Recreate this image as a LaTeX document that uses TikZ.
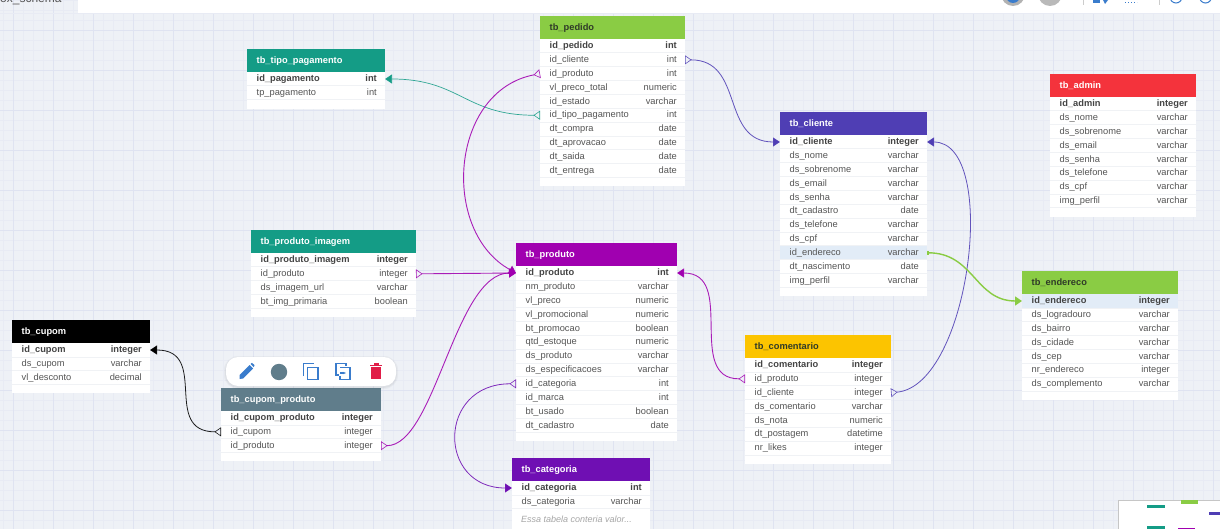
\documentclass[tikz,border=0pt]{standalone}
\usepackage{fontspec}
\setmainfont{Liberation Sans}
\usetikzlibrary{arrows.meta,calc}
\definecolor{bgc}{HTML}{EEF1F6}
\definecolor{gridmin}{HTML}{E8EBF4}
\definecolor{gridmaj}{HTML}{DFE3F1}
\definecolor{rowline}{HTML}{F0F2F5}
\definecolor{hlc}{HTML}{E2ECF7}
\definecolor{tealc}{HTML}{149C86}
\definecolor{greenc}{HTML}{8ACC44}
\definecolor{indigoc}{HTML}{4F3EB4}
\definecolor{redc}{HTML}{F4333C}
\definecolor{magc}{HTML}{A000B0}
\definecolor{yelc}{HTML}{FCC400}
\definecolor{purc}{HTML}{6F0FB3}
\definecolor{slatec}{HTML}{607D8B}
\definecolor{blackc}{HTML}{000000}
\definecolor{pkc}{HTML}{444444}
\definecolor{txtc}{HTML}{555555}
\definecolor{titledark}{HTML}{2F3A28}
\definecolor{iconb}{HTML}{3A7CCC}
\definecolor{trashc}{HTML}{E11D48}
\tikzset{
  bodybox/.style={fill=white,inner sep=0pt,outer sep=0pt,anchor=north west},
  headbox/.style={fill=#1,inner sep=0pt,outer sep=0pt,anchor=north west,minimum height=23pt},
  titletxt/.style={font=\fontsize{9.3pt}{10pt}\selectfont\bfseries,text=#1,inner sep=0pt,anchor=west,text height=6.5pt,text depth=2pt},
  rowtxt/.style={font=\fontsize{9.3pt}{10pt}\selectfont,text=txtc,inner sep=0pt,text height=6.5pt,text depth=2pt},
  pktxt/.style={font=\fontsize{9.3pt}{10pt}\selectfont\bfseries,text=pkc,inner sep=0pt,text height=6.5pt,text depth=2pt},
  rel/.style={draw=#1,draw opacity=0.88,line width=0.8pt,{Triangle[open,reversed,length=6.5pt,width=9pt,line width=0.6pt]}-{Triangle[length=7pt,width=9pt]}},
  relend/.style={draw=#1,line width=1.4pt,{Bar[width=4pt,line width=1.5pt]}-{Triangle[length=7pt,width=9pt]}},
  icon/.style={color=iconb,line width=1.6pt,fill=none},
}
\def\hlrow{0}
% id, title, x1, x2, ytop, ybottom, colour, title colour, rows
\newcommand\tbl[9]{%
  \node[bodybox,minimum width={#4-#3},minimum height={#6-#5}] (#1) at (#3,#5) {};
  \node[headbox=#7,minimum width={#4-#3}] (#1-h) at (#3,#5) {};
  \pgfmathsetmacro\ty{#5+12}
  \node[titletxt=#8] (#1-t) at (#3+9.5,\ty) {#2};
  \foreach \cname/\ctype [count=\i] in {#9} {
    \pgfmathsetmacro\ry{#5+30+(\i-1)*13.85}
    \pgfmathsetmacro\sy{\ry+6.9}
    \pgfmathsetmacro\tty{\ry+0.4}
    \ifnum\i=\hlrow
      \fill[hlc] (#3,\ry-6.9) rectangle (#4,\ry+6.9);
    \fi
    \draw[rowline,line width=0.8pt] (#3,\sy) -- (#4,\sy);
    \coordinate (#1-\i-l) at (#3,\ry);
    \coordinate (#1-\i-r) at (#4,\ry);
    \ifnum\i=1
      \node[pktxt,anchor=west] (#1-\i-a) at (#3+9.5,\tty) {\cname};
      \node[pktxt,anchor=east] (#1-\i-b) at (#4-8,\tty) {\ctype};
    \else
      \node[rowtxt,anchor=west] (#1-\i-a) at (#3+9.5,\tty) {\cname};
      \node[rowtxt,anchor=east] (#1-\i-b) at (#4-8,\tty) {\ctype};
    \fi
  }
}
\begin{document}
\begin{tikzpicture}[x=1pt,y=-1pt]
\useasboundingbox (0,0) rectangle (1220,529);
\clip (0,0) rectangle (1220,529);
\fill[bgc] (0,0) rectangle (1220,529);
% grid
\foreach \gx in {3,13,...,1223} {\draw[gridmin,line width=0.6pt] (\gx,0) -- (\gx,529);}
\foreach \gy in {0,10,...,530} {\draw[gridmin,line width=0.6pt] (0,\gy) -- (1220,\gy);}
\foreach \gx in {13,53,...,1213} {\draw[gridmaj,line width=0.7pt] (\gx,0) -- (\gx,529);}
\foreach \gy in {30,70,...,510} {\draw[gridmaj,line width=0.7pt] (0,\gy) -- (1220,\gy);}
% top bar
\fill[white] (78,0) rectangle (1220,13);
\draw[gridmin,line width=0.8pt] (0,13.5) -- (1220,13.5);
\begin{scope}
  \clip (0,0) rectangle (78,13);
  \node[anchor=base west,inner sep=0pt,font=\fontsize{12pt}{13pt}\selectfont,text=txtc] (tabname) at (0,3) {ox\_schema};
\end{scope}
\begin{scope}
  \clip (78,0) rectangle (1220,13);
  \fill[gray!60] (1013,-6) circle (12);
  \fill[iconb] (1013,-4) circle (7);
  \fill[gray!55] (1050,-6) circle (12);
  \draw[gray!40,line width=0.7pt] (1083,0) -- (1083,5);
  \draw[gray!40,line width=0.7pt] (1159,0) -- (1159,5);
  \fill[iconb] (1093,0) rectangle (1100,3);
  \fill[iconb] (1103,0) -- (1108,0) -- (1105,4) -- cycle;
  \draw[iconb,line width=1pt,dotted] (1125,2.5) -- (1137,2.5);
  \draw[iconb,line width=1pt] (1176,-3) circle (6);
  \draw[iconb,line width=1pt] (1205.5,-3) circle (6);
\end{scope}
% legend
\fill[white,draw=gray!45,line width=1pt] (1118.5,500.5) rectangle (1225,535);
\fill[greenc] (1181,500) rectangle (1198,504);
\fill[tealc] (1147,505) rectangle (1165,508);
\fill[indigoc] (1209,512) rectangle (1220,515);
\fill[tealc] (1147,526) rectangle (1165,529);
\fill[magc] (1178,528) rectangle (1195,529);
% tables
\tbl{pedido}{tb\_pedido}{540}{685}{16}{186}{greenc}{titledark}{id\_pedido/int,id\_cliente/int,id\_produto/int,vl\_preco\_total/numeric,id\_estado/varchar,id\_tipo\_pagamento/int,dt\_compra/date,dt\_aprovacao/date,dt\_saida/date,dt\_entrega/date}
\tbl{tipo}{tb\_tipo\_pagamento}{247}{385}{49}{109}{tealc}{white}{id\_pagamento/int,tp\_pagamento/int}
\def\hlrow{9}
\tbl{cliente}{tb\_cliente}{780}{927}{112}{296}{indigoc}{white}{id\_cliente/integer,ds\_nome/varchar,ds\_sobrenome/varchar,ds\_email/varchar,ds\_senha/varchar,dt\_cadastro/date,ds\_telefone/varchar,ds\_cpf/varchar,id\_endereco/varchar,dt\_nascimento/date,img\_perfil/varchar}
\def\hlrow{0}
\tbl{admin}{tb\_admin}{1050}{1196}{74}{217}{redc}{white}{id\_admin/integer,ds\_nome/varchar,ds\_sobrenome/varchar,ds\_email/varchar,ds\_senha/varchar,ds\_telefone/varchar,ds\_cpf/varchar,img\_perfil/varchar}
\tbl{imagem}{tb\_produto\_imagem}{251}{416}{230}{317}{tealc}{white}{id\_produto\_imagem/integer,id\_produto/integer,ds\_imagem\_url/varchar,bt\_img\_primaria/boolean}
\tbl{produto}{tb\_produto}{516}{677}{243}{441}{magc}{white}{id\_produto/int,nm\_produto/varchar,vl\_preco/numeric,vl\_promocional/numeric,bt\_promocao/boolean,qtd\_estoque/numeric,ds\_produto/varchar,ds\_especificacoes/varchar,id\_categoria/int,id\_marca/int,bt\_usado/boolean,dt\_cadastro/date}
\def\hlrow{1}
\tbl{endereco}{tb\_endereco}{1022}{1178}{271}{400}{greenc}{titledark}{id\_endereco/integer,ds\_logradouro/varchar,ds\_bairro/varchar,ds\_cidade/varchar,ds\_cep/varchar,nr\_endereco/integer,ds\_complemento/varchar}
\def\hlrow{0}
\tbl{comentario}{tb\_comentario}{745}{891}{335}{464}{yelc}{titledark}{id\_comentario/integer,id\_produto/integer,id\_cliente/integer,ds\_comentario/varchar,ds\_nota/numeric,dt\_postagem/datetime,nr\_likes/integer}
\tbl{cupom}{tb\_cupom}{12}{150}{320}{393}{blackc}{white}{id\_cupom/integer,ds\_cupom/varchar,vl\_desconto/decimal}
\tbl{cupomprod}{tb\_cupom\_produto}{221}{381}{388}{461}{slatec}{white}{id\_cupom\_produto/integer,id\_cupom/integer,id\_produto/integer}
\tbl{categoria}{tb\_categoria}{512}{650}{458}{535}{purc}{white}{id\_categoria/int,ds\_categoria/varchar}
\node[anchor=west,inner sep=0pt,font=\fontsize{9pt}{10pt}\selectfont\itshape,text=gray!70] (nota) at (521,519) {Essa tabela conteria valor...};
% connectors
\draw[rel=tealc,line width=0.7pt] (pedido-6-l) .. controls +(-75,0) and +(75,0) .. (tipo-1-r);
\draw[rel=magc,line width=0.9pt] (pedido-3-l) .. controls +(-90,17) and +(-76,-42) .. (produto-1-l);
\draw[rel=indigoc] (pedido-2-r) .. controls +(60,0) and +(-60,0) .. (cliente-1-l);
\draw[rel=magc,line width=0.9pt] (imagem-2-r) -- (produto-1-l);
\draw[rel=magc,line width=0.9pt] (cupomprod-3-r) .. controls +(54,0) and +(-61,0) .. (produto-1-l);
\draw[rel=magc,line width=0.9pt] (comentario-2-l) .. controls +(-60,0) and +(60,0) .. (produto-1-r);
\draw[rel=purc] (produto-9-l) .. controls +(-79,0) and +(-75,0) .. (categoria-1-l);
\draw[rel=blackc] (cupomprod-2-l) .. controls +(-60,0) and +(60,0) .. (cupom-1-r);
\draw[rel=indigoc] (comentario-3-r) .. controls +(79,-7) and +(73,0) .. (cliente-1-r);
\draw[relend=greenc] (cliente-9-r) .. controls +(47,0) and +(-47,0) .. (endereco-1-l);
% toolbar
\fill[black,opacity=0.03,rounded corners=14pt] (224,356) rectangle (398,389);
\fill[black,opacity=0.04,rounded corners=13pt] (225,357) rectangle (397,388);
\fill[white,rounded corners=12pt] (226,357) rectangle (396,386);
\fill[iconb] (239.5,375) -- (249.5,365) -- (253,368.5) -- (243,378.5) -- (239.5,379) -- cycle;
\fill[iconb] (250.5,364) -- (252,362.8) -- (254.5,365.2) -- (253.8,367.2) -- cycle;
\fill[slatec] (279,372) circle (8.2);
\draw[icon] (307.3,367.3) rectangle (317.7,379.5);
\draw[icon] (303.3,376) -- (303.3,363.5) -- (314,363.5);
\draw[icon] (339,375) -- (336,375) -- (336,363.5) -- (346,363.5) -- (346,366);
\draw[icon] (340,367.5) -- (350,367.5) -- (350,379.5) -- (340,379.5) -- (340,376);
\draw[icon,line width=1.1pt,-{Stealth[length=3pt]}] (340,373) -- (346,373);
\fill[trashc] (370.7,367.3) rectangle (381,378.5);
\fill[trashc] (370,364.5) rectangle (381.7,366.3);
\fill[trashc] (373.5,363.3) rectangle (378.5,365);
\end{tikzpicture}
\end{document}
